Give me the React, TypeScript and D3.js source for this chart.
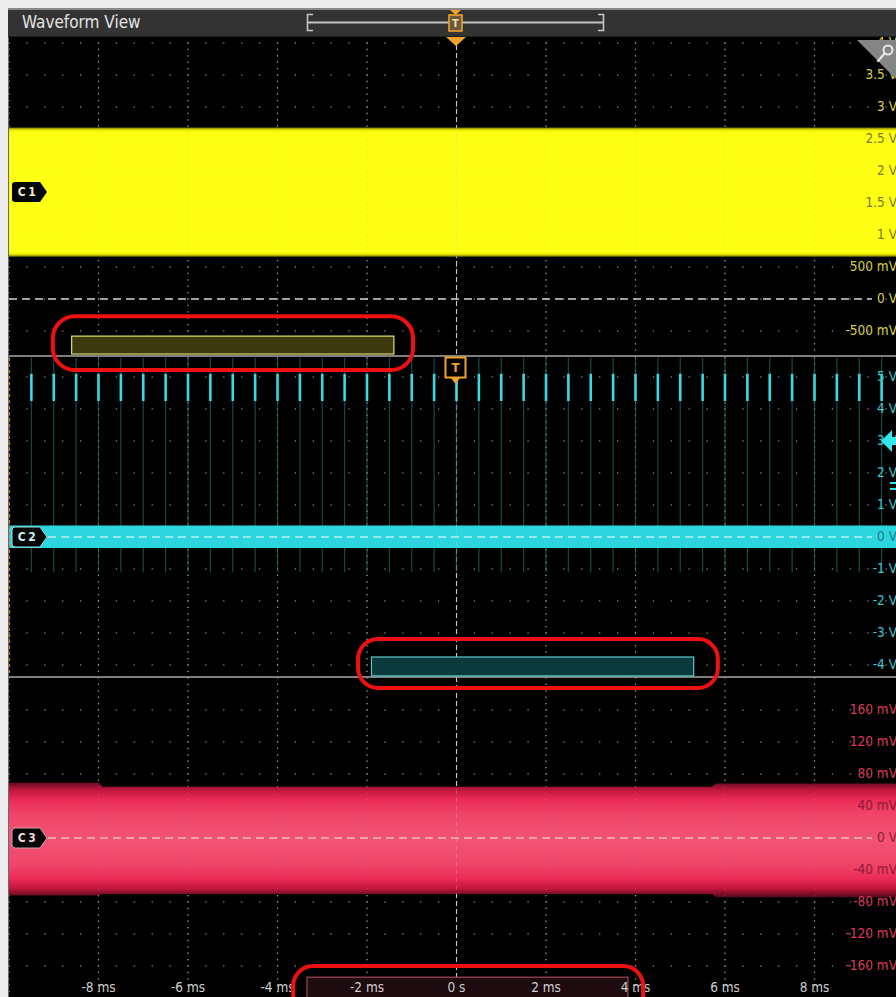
import React, { useEffect } from "react";
import * as d3 from "d3";

// ---------- data ----------
const timeTicks = [-8, -6, -4, -2, 0, 2, 4, 6, 8];
const timeLabels = ["-8 ms", "-6 ms", "-4 ms", "-2 ms", "0 s", "2 ms", "4 ms", "6 ms", "8 ms"];
const timeGrid = [-10, -8, -6, -4, -2, 0, 2, 4, 6, 8, 10];

const c1Ticks = [4, 3.5, 3, 2.5, 2, 1.5, 1, 0.5, 0, -0.5];
const c1Labels = ["4 V", "3.5 V", "3 V", "2.5 V", "2 V", "1.5 V", "1 V", "500 mV", "0 V", "-500 mV"];
const c2Ticks = [5, 4, 3, 2, 1, 0, -1, -2, -3, -4];
const c2Labels = ["5 V", "4 V", "3 V", "2 V", "1 V", "0 V", "-1 V", "-2 V", "-3 V", "-4 V"];
const c3Ticks = [160, 120, 80, 40, 0, -40, -80, -120, -160];
const c3Labels = ["160 mV", "120 mV", "80 mV", "40 mV", "0 V", "-40 mV", "-80 mV", "-120 mV", "-160 mV"];

// C1 (yellow) envelope, volts
const c1Time = [-10, 10];
const c1Top = [2.68, 2.68];
const c1Bottom = [0.66, 0.66];

// C2 (cyan) baseline envelope, volts, and pulse train
const c2Time = [-10, 10];
const c2Top = [0.36, 0.36];
const c2Bottom = [-0.34, -0.34];
const c2PulseTimes = [
  -9.5, -9, -8.5, -8, -7.5, -7, -6.5, -6, -5.5, -5, -4.5, -4, -3.5, -3, -2.5, -2, -1.5, -1, -0.5,
  0, 0.5, 1, 1.5, 2, 2.5, 3, 3.5, 4, 4.5, 5, 5.5, 6, 6.5, 7, 7.5, 8, 8.5, 9, 9.5,
];
const c2PulseHigh = 5.1;
const c2PulseBright = 4.25;
const c2PulseFaintTop = 5.6;
const c2PulseFaintBottom = -1.1;
const c2TriggerLevel = 3;

// C3 (red) noise envelope, mV
const c3Time = [-10, -8, -7.9, 5.7, 5.8, 10];
const c3Top = [69, 69, 64, 64, 68, 68];
const c3Bottom = [-72, -72, -70, -70, -74, -74];

// overview / cursor boxes (ms, channel units)
const c1Box = { t0: -8.6, t1: -1.4, v0: -0.58, v1: -0.86 };
const c2Box = { t0: -1.9, t1: 5.3, v0: -3.75, v1: -4.34 };
const c3Box = { t0: -3.34, t1: 3.83, v0: -174, v1: -210 };
const ring1 = { t0: -9.02, t1: -0.97, v0: -0.27, v1: -1.11 };
const ring2 = { t0: -2.2, t1: 5.84, v0: -3.19, v1: -4.72 };
const ring3 = { t0: -3.65, t1: 4.17, v0: -160, v1: -220 };

const FONT = "'DejaVu Sans Condensed','DejaVu Sans',sans-serif";

export default function App() {
  useEffect(() => {
    document.body.style.margin = "0";
    document.documentElement.style.overflow = "hidden";
  }, []);

  const W = 896;
  const H = 997;
  const x = d3.scaleLinear().domain([-10, 10]).range([9, 904]);
  const y1 = d3.scaleLinear().domain([-0.5, 4]).range([331, 43]);
  const y2 = d3.scaleLinear().domain([-4, 5]).range([665, 377]);
  const y3 = d3.scaleLinear().domain([-160, 160]).range([966, 710]);

  const panels = [
    { top: 37, bottom: 356, rows: c1Ticks.map((v) => y1(v)) },
    { top: 356, bottom: 677, rows: c2Ticks.map((v) => y2(v)) },
    { top: 677, bottom: 997, rows: c3Ticks.map((v) => y3(v)) },
  ];

  const mkArea = (ys: d3.ScaleLinear<number, number>, t: number[], top: number[], bot: number[]) =>
    d3
      .area<number>()
      .x((_, i) => x(t[i]))
      .y0((_, i) => ys(bot[i]))
      .y1((_, i) => ys(top[i]))(t)!;

  const c1Area = mkArea(y1, c1Time, c1Top, c1Bottom);
  const c2Area = mkArea(y2, c2Time, c2Top, c2Bottom);
  const c3Area = mkArea(y3, c3Time, c3Top, c3Bottom);

  const gridLayer = (opacity: number, key: string) => (
    <g key={key} opacity={opacity}>
      {panels.map((p, pi) => (
        <g key={pi}>
          {p.rows.map((ry, ri) => (
            <line key={"r" + ri} x1={x(-10) - 0.6} x2={W} y1={ry} y2={ry} stroke="#a0a0a0" strokeWidth={1.2} strokeDasharray="1.2 16.7" />
          ))}
          {timeGrid.map((t, ti) => {
            if (t === 0) return null;
            const ref = p.rows[0];
            const start = ref - Math.floor((ref - p.top) / 6.4) * 6.4 - 0.6;
            return (
              <line key={"c" + ti} x1={x(t)} x2={x(t)} y1={start} y2={p.bottom} stroke="#a0a0a0" strokeWidth={1.2} strokeDasharray="1.2 5.2" />
            );
          })}
        </g>
      ))}
      <line x1={x(0)} x2={x(0)} y1={37} y2={H} stroke="#c8c8c8" strokeWidth={1.1} strokeDasharray="5 3" />
    </g>
  );

  const rrect = (b: { t0: number; t1: number; v0: number; v1: number }, ys: d3.ScaleLinear<number, number>) => ({
    x: x(b.t0),
    y: ys(b.v0),
    width: x(b.t1) - x(b.t0),
    height: ys(b.v1) - ys(b.v0),
  });

  const badge = (yc: number, label: string, stroke: string, txt: string) => {
    const x0 = 12;
    const x1 = 47;
    const d = `M${x0 + 3},${yc - 10} L${x1 - 7},${yc - 10} L${x1},${yc} L${x1 - 7},${yc + 10} L${x0 + 3},${yc + 10} Q${x0},${yc + 10} ${x0},${yc + 7} L${x0},${yc - 7} Q${x0},${yc - 10} ${x0 + 3},${yc - 10} Z`;
    return (
      <g>
        <path d={d} fill="#050505" stroke={stroke} strokeWidth={1} />
        <text x={28} y={yc + 0.5} fill={txt} fontFamily={FONT} fontSize={12} fontWeight="600" textAnchor="middle" dominantBaseline="middle" letterSpacing={2.5}>
          {label}
        </text>
      </g>
    );
  };

  const orange = "#f0a22a";
  const labelX = 897;
  const LFS = 13.5;

  return (
    <svg width={W} height={H} style={{ display: "block" }} xmlns="http://www.w3.org/2000/svg">
      <defs>
        <linearGradient id="g1" gradientUnits="userSpaceOnUse" x1={0} x2={0} y1={y1(c1Top[0])} y2={y1(c1Bottom[0])}>
          <stop offset="0" stopColor="#6f6f00" />
          <stop offset="0.02" stopColor="#eeee00" />
          <stop offset="0.04" stopColor="#ffff14" />
          <stop offset="0.96" stopColor="#ffff14" />
          <stop offset="0.98" stopColor="#eeee00" />
          <stop offset="1" stopColor="#6f6f00" />
        </linearGradient>
        <linearGradient id="g3" gradientUnits="userSpaceOnUse" x1={0} x2={0} y1={y3(72)} y2={y3(-75)}>
          <stop offset="0" stopColor="#4a0816" />
          <stop offset="0.08" stopColor="#c0163c" />
          <stop offset="0.16" stopColor="#ea2a55" />
          <stop offset="0.28" stopColor="#ef4468" />
          <stop offset="0.5" stopColor="#f25474" />
          <stop offset="0.72" stopColor="#ef4468" />
          <stop offset="0.84" stopColor="#ea2a55" />
          <stop offset="0.92" stopColor="#c0163c" />
          <stop offset="1" stopColor="#4a0816" />
        </linearGradient>
      </defs>

      {/* page + plot background */}
      <rect x={0} y={0} width={W} height={H} fill="#ececec" />
      <rect x={8} y={37} width={W - 8} height={H - 37} fill="#000" />

      {gridLayer(1, "gridUnder")}

      {/* C1 yellow */}
      <path d={c1Area} fill="url(#g1)" />

      {/* C2 cyan pulses + baseline */}
      {c2PulseTimes.map((t, i) => (
        <line key={"pf" + i} x1={x(t)} x2={x(t)} y1={y2(c2PulseFaintTop)} y2={y2(c2PulseFaintBottom)} stroke="#17605f" strokeWidth={1.2} opacity={0.8} />
      ))}
      <path d={c2Area} fill="#2bd6df" />
      {c2PulseTimes.map((t, i) => (
        <line key={"pb" + i} x1={x(t)} x2={x(t)} y1={y2(c2PulseHigh)} y2={y2(c2PulseBright)} stroke="#38dbe4" strokeWidth={2.6} />
      ))}

      {/* C3 red noise band */}
      <path d={c3Area} fill="url(#g3)" />

      {gridLayer(0.28, "gridOver")}

      {/* zero lines */}
      <line x1={9} x2={872} y1={y1(0)} y2={y1(0)} stroke="#d4d4d4" strokeWidth={1.3} strokeDasharray="8 5" />
      <line x1={48} x2={872} y1={y2(0)} y2={y2(0)} stroke="#b6f2f4" strokeWidth={1.3} strokeDasharray="8 5" />
      <line x1={48} x2={872} y1={y3(0)} y2={y3(0)} stroke="#f6b8c6" strokeWidth={1.3} strokeDasharray="8 5" />

      {/* panel separators */}
      <line x1={8} x2={W} y1={356} y2={356} stroke="#a8a8a8" strokeWidth={1.6} />
      <line x1={8} x2={W} y1={677} y2={677} stroke="#a8a8a8" strokeWidth={1.6} />
      <line x1={9.5} x2={9.5} y1={358} y2={676} stroke="#c07a2a" strokeWidth={1.3} strokeDasharray="3 3" />
      <line x1={8.5} x2={8.5} y1={8} y2={H} stroke="#6a6a6a" strokeWidth={1} />

      {/* right-hand axis labels */}
      {c1Ticks.map((v, i) => {
        const inside = v <= c1Top[0] && v >= c1Bottom[0];
        return (
          <text key={"l1" + i} x={labelX} y={y1(v)} fill={inside ? "#7c7a10" : "#d8d048"} fontFamily={FONT} fontSize={LFS} textAnchor="end" dominantBaseline="middle">
            {c1Labels[i]}
          </text>
        );
      })}
      {c2Ticks.map((v, i) => {
        const inside = v <= c2Top[0] && v >= c2Bottom[0];
        return (
          <text key={"l2" + i} x={labelX} y={y2(v)} fill={inside ? "#1d7c86" : "#3cc6d0"} fontFamily={FONT} fontSize={LFS} textAnchor="end" dominantBaseline="middle">
            {c2Labels[i]}
          </text>
        );
      })}
      {c3Ticks.map((v, i) => {
        const inside = v <= 55 && v >= -55;
        return (
          <text key={"l3" + i} x={labelX} y={y3(v)} fill={inside ? "#8e1a34" : "#d83a5a"} fontFamily={FONT} fontSize={LFS} textAnchor="end" dominantBaseline="middle">
            {c3Labels[i]}
          </text>
        );
      })}

      {/* C2 trigger level arrow */}
      <path
        d={`M${881},${y2(c2TriggerLevel)} L${892},${y2(c2TriggerLevel) - 11} L${892},${y2(c2TriggerLevel) - 4} L${897},${y2(c2TriggerLevel) - 4} L${897},${y2(c2TriggerLevel) + 4} L${892},${y2(c2TriggerLevel) + 4} L${892},${y2(c2TriggerLevel) + 11} Z`}
        fill="#34e6ee"
      />
      <rect x={890} y={482} width={6} height={2} fill="#34e6ee" />
      <rect x={890} y={488} width={6} height={2} fill="#34e6ee" />

      {/* channel badges */}
      {badge(192, "C1", "none", "#f4f0c8")}
      {badge(y2(0), "C2", "#9adfe2", "#c8f4f6")}
      {badge(y3(0), "C3", "#d0a0aa", "#f2d8de")}

      {/* cursor / overview boxes */}
      <rect {...rrect(c1Box, y1)} fill="#3a3a0e" stroke="#e6e070" strokeWidth={1.2} />
      <rect {...rrect(c2Box, y2)} fill="#0c3a3c" stroke="#5cc8c8" strokeWidth={1.2} />
      <rect {...rrect(c3Box, y3)} fill="#1e0b10" stroke="#a04858" strokeWidth={1.2} />

      {/* time axis labels */}
      {timeTicks.map((t, i) => (
        <text key={"t" + i} x={x(t)} y={988} fill="#cfcfcf" fontFamily={FONT} fontSize={LFS} textAnchor="middle" dominantBaseline="middle">
          {timeLabels[i]}
        </text>
      ))}

      {/* red annotation rings */}
      <rect {...rrect(ring1, y1)} rx={22} ry={22} fill="none" stroke="#ee1111" strokeWidth={4} />
      <rect {...rrect(ring2, y2)} rx={20} ry={20} fill="none" stroke="#ee1111" strokeWidth={4} />
      <rect {...rrect(ring3, y3)} rx={20} ry={20} fill="none" stroke="#ee1111" strokeWidth={4} />

      {/* trigger marker in C2 panel */}
      <rect x={445.5} y={357.5} width={20} height={20} fill="#000" stroke={orange} strokeWidth={2} />
      <path d="M451,378 L460,378 L455.5,384 Z" fill={orange} />
      <text x={455.5} y={368.5} fill={orange} fontFamily={FONT} fontSize={13} fontWeight="bold" textAnchor="middle" dominantBaseline="middle">
        T
      </text>

      {/* magnifier corner */}
      <path d="M857,40 L896,40 L896,79 Z" fill="#858585" />
      <circle cx={888} cy={50} r={4.5} fill="none" stroke="#e6e6e6" strokeWidth={2} />
      <line x1={884.8} y1={53.2} x2={878} y2={61} stroke="#e6e6e6" strokeWidth={2.2} strokeLinecap="round" />

      {/* header */}
      <rect x={8} y={8} width={W - 8} height={29} fill="#333333" />
      <line x1={8} x2={W} y1={9} y2={9} stroke="#8a8a8a" strokeWidth={2} />
      <line x1={8} x2={W} y1={36.5} y2={36.5} stroke="#1e1e1e" strokeWidth={1} />
      <text x={22} y={23} fill="#e4e4e4" fontFamily={FONT} fontSize={17} dominantBaseline="middle">
        Waveform View
      </text>
      <line x1={308} x2={603} y1={22.5} y2={22.5} stroke="#c4c4c4" strokeWidth={2} />
      <path d="M313,14.5 H307.5 V30.5 H313" fill="none" stroke="#c4c4c4" strokeWidth={1.6} />
      <path d="M598,14.5 H603.5 V30.5 H598" fill="none" stroke="#c4c4c4" strokeWidth={1.6} />
      <path d="M450,10 L461,10 L455.5,15 Z" fill={orange} />
      <rect x={449} y={15} width={13} height={16} fill="#6a5a40" stroke={orange} strokeWidth={1.6} />
      <text x={455.5} y={23.5} fill="#f2d8a0" fontFamily={FONT} fontSize={11} fontWeight="bold" textAnchor="middle" dominantBaseline="middle">
        T
      </text>
      <path d="M446,37 L466,37 L456,46 Z" fill={orange} />
    </svg>
  );
}
